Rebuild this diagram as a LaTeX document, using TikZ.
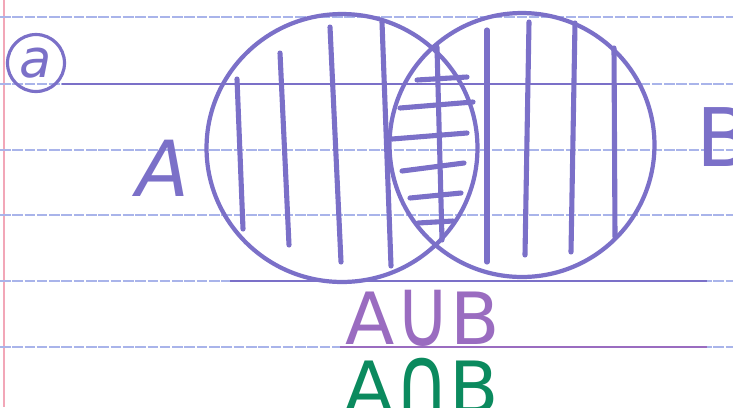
\documentclass[tikz,border=0pt]{standalone}
\usepackage{fontspec}
\newfontfamily\hand{DejaVu Sans}
\usetikzlibrary{shapes.geometric}

\definecolor{pen}{HTML}{7B70C8}
\definecolor{ruleblue}{HTML}{A9B4EA}
\definecolor{margin}{HTML}{F2A7B8}
\definecolor{unionpen}{HTML}{9A6CC0}
\definecolor{interpen}{HTML}{0B8A5E}

\begin{document}
\begin{tikzpicture}[
    x=0.02cm, y=-0.02cm,
    rule/.style={ruleblue, line width=1.1pt, dash pattern=on 6pt off 1pt},
    traced/.style={pen, line width=1.6pt},
    outline/.style={pen, draw, ellipse, inner sep=0pt, line width=2.4pt},
    hatch/.style={pen, line width=2.9pt, line cap=round},
    setlabel/.style={pen, font=\hand\fontsize{46}{46}\selectfont},
    result/.style={font=\hand\fontsize{41}{41}\selectfont}
]

% Paper
\fill[white] (0,0) rectangle (733,407);
\useasboundingbox (0,0) rectangle (733,407);
\draw[margin, line width=1.2pt] (4,0) -- (4,407);
\foreach \y in {17, 84, 150, 215, 281, 347} {
    \draw[rule] (0,\y) -- (733,\y);
}

% Traced ruled lines
\draw[traced] (62,84) -- (640,84);
\draw[traced] (230,281) -- (707,281);
\draw[traced, unionpen] (340,347) -- (707,347);

% Part label
\node[pen, draw, circle, line width=1.8pt, minimum size=1.14cm, inner sep=0pt,
      font=\hand\itshape\fontsize{30}{30}\selectfont] (part) at (36,63) {a};

% Hatching of A
\foreach \xa/\ya/\xb/\yb in {237/79/243/229, 280/53/289/245, 330/27/341/262, 382/22/391/266} {
    \draw[hatch] (\xa,\ya) -- (\xb,\yb);
}

% Hatching of B
\foreach \xa/\ya/\xb/\yb in {487/30/487/262, 529/22/525/255, 575/23/571/252, 614/48/615/237} {
    \draw[hatch] (\xa,\ya) -- (\xb,\yb);
}

% Cross hatching of the overlap
\draw[hatch] (437,47) -- (442,240);
\foreach \xa/\ya/\xb/\yb in {417/80/467/77, 400/108/473/102, 392/139/467/133, 402/171/464/163, 410/198/461/193, 418/223/453/221} {
    \draw[hatch] (\xa,\ya) -- (\xb,\yb);
}

% Sets
\node[outline, minimum width=5.42cm, minimum height=5.36cm] (setA) at (342,148) {};
\node[outline, minimum width=5.30cm, minimum height=5.28cm] (setB) at (522,145) {};

% Set names
\node[setlabel, font=\hand\itshape\fontsize{44}{44}\selectfont] (nameA) at (163,168) {A};
\node[setlabel, anchor=west] (nameB) at (690,137) {B};

% Results
\node[result, unionpen] (union) at (423,318) {A\raisebox{-0.02em}{\scalebox{1.05}[1.35]{∪}}B};
\node[result, interpen, anchor=north] (inter) at (422,352) {A\raisebox{-0.02em}{\scalebox{1.05}[1.35]{∩}}B};

\end{tikzpicture}
\end{document}
